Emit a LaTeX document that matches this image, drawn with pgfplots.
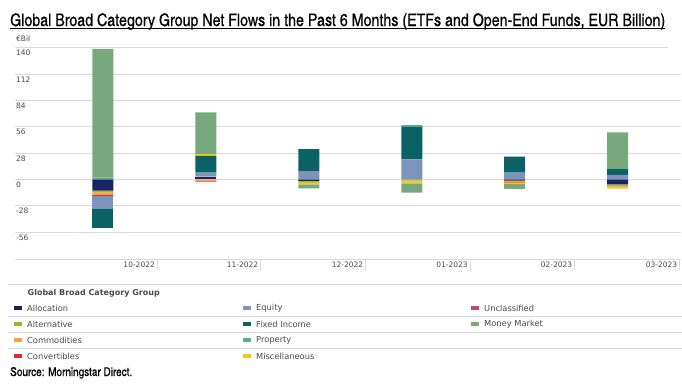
\documentclass[border=0pt]{standalone}
\usepackage{pgfplots}
\pgfplotsset{compat=1.18}
\usepackage{pgfplotstable}
\usepackage{fontspec}
\setmainfont{DejaVu Sans}
\newfontfamily\condfont[FakeBold=0.5]{TeX Gyre Heros Cn}
\definecolor{cAlloc}{HTML}{1A2366}
\definecolor{cAlt}{HTML}{A3B52A}
\definecolor{cComm}{HTML}{F5A033}
\definecolor{cConv}{HTML}{E32A2A}
\definecolor{cEq}{HTML}{7C93BB}
\definecolor{cFI}{HTML}{0B6265}
\definecolor{cProp}{HTML}{5BAE8E}
\definecolor{cMisc}{HTML}{F5CB12}
\definecolor{cUncl}{HTML}{C8427A}
\definecolor{cMM}{HTML}{77A97D}
\definecolor{gridgrey}{HTML}{DADADA}
\definecolor{labgrey}{HTML}{4A4A4A}

\pgfplotstableread{
x Alloc Alt Comm Conv Eq FI Misc MM
0 -12 -1.8 -2.5 -1.4 -14.2 -20.2 0 0
1 0 0 -1.4 -1.0 0 0 0 0
2 -1.8 -1.7 0 0 0 0 -1.8 -4.3
3 0 -1.5 -0.8 0 0 0 -2.0 -9.9
4 -1.5 0 -1.7 -0.6 0 0 -1.0 -5.5
5 -5.3 -2.1 -1.2 0 0 0 -1.2 0
}\negtable

\pgfplotstableread{
x Alloc Eq FI Prop Misc MM
0 0 0 0 1.7 0 137
1 2.8 4.3 17.7 0 1.8 44.6
2 0 8.8 23.4 0 0 0
3 0 21.3 34.7 1.7 0 0
4 0 7.0 17.0 0 0 0
5 0 4.6 6.3 0 0 39.1
}\postable

\pgfplotsset{commonax/.style={
  scale only axis, width=666.4pt, height=219pt,
  xmin=-0.855, xmax=5.62, ymin=-84.8, ymax=148.2,
  ybar stacked, bar width=21pt,
  at={(15pt,-259pt)}, anchor=south west,
  every axis plot/.append style={draw=none}
}}

\begin{document}
\begin{tikzpicture}[x=1pt,y=1pt]
\useasboundingbox (0,0) rectangle (682,-383);
% negative parts
\begin{axis}[commonax,
  axis x line*=bottom, axis y line*=left,
  x axis line style={-, draw=gridgrey, line width=0.6pt},
  y axis line style={draw=none},
  ymajorgrids, grid style={draw=gridgrey, line width=0.6pt, shorten >=13.4pt},
  ytick={-56,-28,0,28,56,84,112,140},
  yticklabels={-56,-28,0,28,56,84,112,140},
  ytick align=inside,
  ytick style={draw=none},
  yticklabel style={anchor=north west, font=\fontsize{7.5}{8}\selectfont, text=labgrey, inner sep=0pt, xshift=1pt, yshift=-2.5pt},
  xtick={0.525,1.53,2.55,3.565,4.58,5.6},
  xticklabels={10-2022,11-2022,12-2022,01-2023,02-2023,03-2023},
  xtick align=outside,
  major tick length=11pt,
  xtick style={draw=gridgrey, line width=0.6pt},
  xticklabel style={anchor=east, font=\fontsize{7.5}{8}\selectfont, text=labgrey, inner sep=0pt, xshift=-2pt, yshift=5pt},
  clip=false,
]
\addplot[fill=cAlloc] table[x=x,y=Alloc]{\negtable};
\addplot[fill=cAlt] table[x=x,y=Alt]{\negtable};
\addplot[fill=cComm] table[x=x,y=Comm]{\negtable};
\addplot[fill=cConv] table[x=x,y=Conv]{\negtable};
\addplot[fill=cEq] table[x=x,y=Eq]{\negtable};
\addplot[fill=cFI] table[x=x,y=FI]{\negtable};
\addplot[fill=cMisc] table[x=x,y=Misc]{\negtable};
\addplot[fill=cMM] table[x=x,y=MM]{\negtable};
\node[anchor=west, inner sep=0pt, font=\fontsize{7.5}{8}\selectfont, text=labgrey] at (rel axis cs:0,1) [xshift=1pt, yshift=1pt] {€Bil};
\end{axis}
% positive parts
\begin{axis}[commonax, hide axis]
\addplot[fill=cAlloc] table[x=x,y=Alloc]{\postable};
\addplot[fill=cEq] table[x=x,y=Eq]{\postable};
\addplot[fill=cFI] table[x=x,y=FI]{\postable};
\addplot[fill=cProp] table[x=x,y=Prop]{\postable};
\addplot[fill=cMisc] table[x=x,y=Misc]{\postable};
\addplot[fill=cMM] table[x=x,y=MM]{\postable};
\end{axis}
% title
\node[anchor=base west, inner sep=0pt] at (10,-26) {\resizebox{655pt}{!}{\condfont\fontsize{18}{18}\selectfont Global Broad Category Group Net Flows in the Past 6 Months (ETFs and Open-End Funds, EUR Billion)}};
\draw[line width=1pt] (10,-28.6) -- (665,-28.6);
% legend
\draw[gridgrey, line width=0.6pt] (8,-284.3) -- (682,-284.3);
\foreach \yy in {316.3,332.3,348.3} {\draw[gridgrey, line width=0.6pt] (8,-\yy) -- (682,-\yy);}
\node[anchor=west, inner sep=0pt, font=\bfseries\fontsize{8}{9}\selectfont, text=labgrey] at (27.5,-293) {Global Broad Category Group};
\foreach \lab/\col/\cx/\ry in {Allocation/cAlloc/14/308.3, Alternative/cAlt/14/324.3, Commodities/cComm/14/340.3, Convertibles/cConv/14/356.3,
  Equity/cEq/243/308.3, Fixed Income/cFI/243/324.3, Property/cProp/243/340.3, Miscellaneous/cMisc/243/356.3,
  Unclassified/cUncl/471/308.3, Money Market/cMM/471/324.3} {
  \fill[\col] (\cx,-\ry-2) rectangle ++(8,4);
  \node[anchor=west, inner sep=0pt, font=\fontsize{8.3}{9}\selectfont, text=labgrey] at (\cx+13,-\ry) {\lab};
}
\node[anchor=base west, inner sep=0pt] at (10,-376) {\resizebox{122pt}{!}{\condfont\fontsize{12}{12}\selectfont Source: Morningstar Direct.}};
\end{tikzpicture}
\end{document}
